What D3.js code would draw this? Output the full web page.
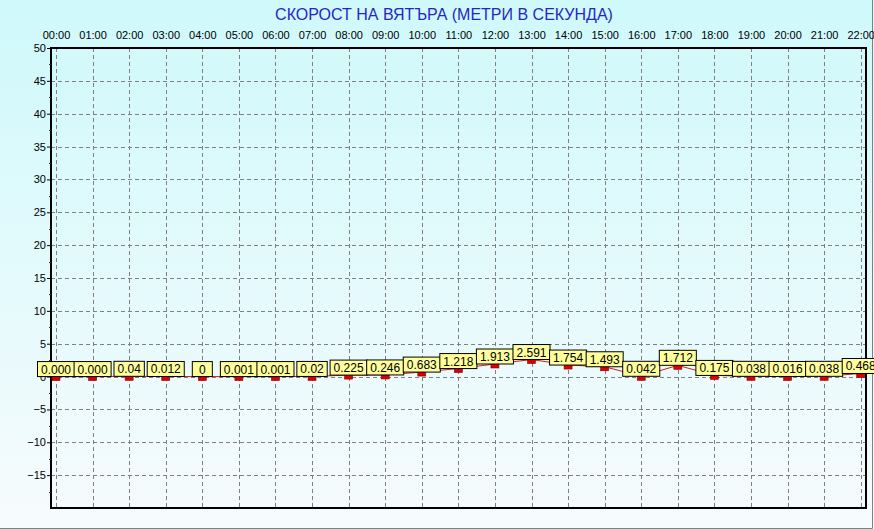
<!DOCTYPE html>
<html>
<head>
<meta charset="utf-8">
<script src="https://cdn.jsdelivr.net/npm/d3@7"></script>
<style>
  html, body { margin: 0; padding: 0; background: #fff; }
  svg { display: block; font-family: "Liberation Sans", Arial, sans-serif; }
</style>
</head>
<body>
<div id="chart"></div>
<script>
(() => {
    // Hourly wind speed (m/s)
    const hours = ['00:00', '01:00', '02:00', '03:00', '04:00', '05:00', '06:00', '07:00',
        '08:00', '09:00', '10:00', '11:00', '12:00', '13:00', '14:00', '15:00',
        '16:00', '17:00', '18:00', '19:00', '20:00', '21:00', '22:00'];
    const speeds = [0.000, 0.000, 0.04, 0.012, 0, 0.001, 0.001, 0.02, 0.225, 0.246, 0.683,
        1.218, 1.913, 2.591, 1.754, 1.493, 0.042, 1.712, 0.175, 0.038, 0.016, 0.038, 0.468];
    const pointLabels = ['0.000', '0.000', '0.04', '0.012', '0', '0.001', '0.001', '0.02',
        '0.225', '0.246', '0.683', '1.218', '1.913', '2.591', '1.754', '1.493', '0.042',
        '1.712', '0.175', '0.038', '0.016', '0.038', '0.468'];
    const yTicks = [-15, -10, -5, 0, 5, 10, 15, 20, 25, 30, 35, 40, 45, 50];
    const yMinorTicks = d3.range(-17.5, 50, 5);

    const width = 874;
    const height = 529;
    const plot = { left: 51, right: 866, top: 48, bottom: 508 };

    const svg = d3.select('#chart')
        .append('svg')
        .attr('width', width)
        .attr('height', height);

    const defs = svg.append('defs');
    const bg = defs.append('linearGradient')
        .attr('id', 'bg-gradient')
        .attr('x1', '0%').attr('y1', '0%')
        .attr('x2', '0%').attr('y2', '100%');
    bg.append('stop').attr('offset', '0%').attr('stop-color', '#cff9fb');
    bg.append('stop').attr('offset', '100%').attr('stop-color', '#f7fbfd');

    svg.append('rect')
        .attr('width', width)
        .attr('height', height)
        .attr('fill', 'url(#bg-gradient)');

    // outer panel edge (right + bottom)
    svg.append('path')
        .attr('d', `M872.5,0V528.5H0`)
        .attr('fill', 'none')
        .attr('stroke', '#808080')
        .attr('stroke-width', 1);

    const x = d3.scalePoint()
        .domain(hours)
        .range([56, 860.7]);

    const y = d3.scaleLinear()
        .domain([-20, 50])
        .range([plot.bottom, plot.top]);

    // Title
    svg.append('text')
        .attr('x', 444)
        .attr('y', 20)
        .attr('text-anchor', 'middle')
        .attr('font-size', '16px')
        .attr('fill', '#2626c8')
        .text('СКОРОСТ НА ВЯТЪРА (МЕТРИ В СЕКУНДА)');

    // Grid
    const grid = svg.append('g')
        .attr('stroke', '#808080')
        .attr('stroke-width', 1)
        .attr('stroke-dasharray', '4,3');

    grid.selectAll('line.v')
        .data(hours)
        .enter()
        .append('line')
        .attr('class', 'v')
        .attr('x1', d => Math.round(x(d)) + 0.5)
        .attr('x2', d => Math.round(x(d)) + 0.5)
        .attr('y1', plot.top)
        .attr('y2', plot.bottom);

    grid.selectAll('line.h')
        .data(yTicks.filter(d => d < 50))
        .enter()
        .append('line')
        .attr('class', 'h')
        .attr('x1', plot.left)
        .attr('x2', plot.right)
        .attr('y1', d => Math.round(y(d)) + 0.5)
        .attr('y2', d => Math.round(y(d)) + 0.5);

    // Plot frame
    svg.append('rect')
        .attr('x', plot.left)
        .attr('y', plot.top)
        .attr('width', plot.right - plot.left)
        .attr('height', plot.bottom - plot.top)
        .attr('fill', 'none')
        .attr('stroke', '#000')
        .attr('stroke-width', 2);

    // X axis labels on top
    const xAxis = svg.append('g')
        .attr('transform', `translate(0, ${plot.top - 9})`)
        .call(d3.axisTop(x).tickSize(0).tickPadding(0));
    xAxis.select('.domain').remove();
    xAxis.selectAll('text')
        .attr('font-size', '11px')
        .attr('font-family', '"Liberation Sans", Arial, sans-serif')
        .attr('fill', '#000');

    // Y axis
    const yAxis = svg.append('g')
        .attr('transform', `translate(${plot.left - 1}, 0)`)
        .call(d3.axisLeft(y).tickValues(yTicks).tickSize(3).tickPadding(1));
    yAxis.select('.domain').remove();
    yAxis.selectAll('text')
        .attr('font-size', '11px')
        .attr('font-family', '"Liberation Sans", Arial, sans-serif')
        .attr('fill', '#000');

    svg.append('g')
        .selectAll('line')
        .data(yMinorTicks)
        .enter()
        .append('line')
        .attr('x1', plot.left - 2)
        .attr('x2', plot.left)
        .attr('y1', d => Math.round(y(d)) + 0.5)
        .attr('y2', d => Math.round(y(d)) + 0.5)
        .attr('stroke', '#333');

    const points = hours.map((h, i) => ({ hour: h, value: speeds[i], label: pointLabels[i] }));

    // Line
    const line = d3.line()
        .x(d => x(d.hour))
        .y(d => y(d.value));

    svg.append('path')
        .datum(points)
        .attr('d', line)
        .attr('fill', 'none')
        .attr('stroke', '#d02020')
        .attr('stroke-width', 1);

    // Markers
    svg.append('g')
        .selectAll('rect')
        .data(points)
        .enter()
        .append('rect')
        .attr('x', d => x(d.hour) - 4)
        .attr('y', d => y(d.value) - 4)
        .attr('width', 8)
        .attr('height', 8)
        .attr('fill', '#d80000')
        .attr('stroke', '#900000')
        .attr('stroke-width', 0.6);

    // Value labels
    const labels = svg.append('g')
        .selectAll('g')
        .data(points)
        .enter()
        .append('g')
        .attr('transform', d => `translate(${x(d.hour)}, ${y(d.value)})`);

    labels.append('rect')
        .attr('fill', '#ffff9c')
        .attr('stroke', '#000')
        .attr('stroke-width', 1);

    labels.append('text')
        .attr('text-anchor', 'middle')
        .attr('y', -3)
        .attr('font-size', '12px')
        .attr('fill', '#000')
        .text(d => d.label);

    labels.each(function () {
        const g = d3.select(this);
        const w = Math.max(20, g.select('text').node().getComputedTextLength() + 7);
        g.select('rect')
            .attr('x', -w / 2)
            .attr('y', -15)
            .attr('width', w)
            .attr('height', 15);
    });
})();
</script>
</body>
</html>
